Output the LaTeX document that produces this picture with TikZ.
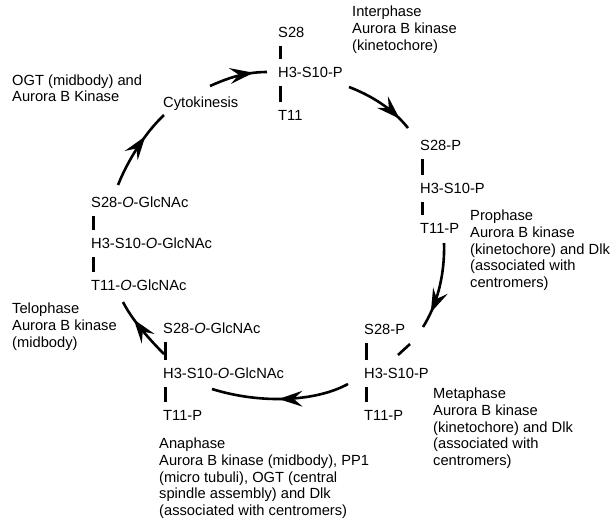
\documentclass[tikz,border=0pt]{standalone}
\usepackage{fontspec}
\setmainfont{Liberation Sans}
\usetikzlibrary{arrows.meta,decorations.markings}
\begin{document}
\begin{tikzpicture}[x=1pt,y=-1pt,
  every node/.style={font=\fontsize{14.7}{16.7}\selectfont},
  lbl/.style={inner sep=0pt,text height=10.5pt,text depth=0pt,anchor=west},
  blk/.style={inner sep=0pt,align=left,anchor=north west},
  bar/.style={line width=3pt},
  cyc/.style={line width=2.6pt},
  midarrow/.style={postaction={decorate},decoration={markings,mark=at position #1 with {\fill[line width=0.4pt] (2,0) -- (-22,8) -- (-13,0) -- (-22,-8) -- cycle;}}}]
\useasboundingbox (0,0) rectangle (616,520);

% Interphase group
\node[lbl] (s28a) at (278,32) {S28};
\node[lbl] (h3a) at (278,72) {H3-S10-P};
\node[lbl] (t11a) at (278,115) {T11};
\node[blk] (inter) at (352,6) {Interphase\\Aurora B kinase\\(kinetochore)};

% Prophase group
\node[lbl] (s28b) at (420,145) {S28-P};
\node[lbl] (h3b) at (420,188) {H3-S10-P};
\node[lbl] (t11b) at (420,228) {T11-P};
\node[blk] (pro) at (470,210) {Prophase\\Aurora B kinase\\(kinetochore) and Dlk\\(associated with\\centromers)};

% Metaphase group
\node[lbl] (s28c) at (364,329) {S28-P};
\node[lbl] (h3c) at (364,373) {H3-S10-P};
\node[lbl] (t11c) at (364,415) {T11-P};
\node[blk] (meta) at (433,388) {Metaphase\\Aurora B kinase\\(kinetochore) and Dlk\\(associated with\\centromers)};

% Anaphase group
\node[lbl] (s28d) at (163,328) {S28-\textit{O}-GlcNAc};
\node[lbl] (h3d) at (163,373) {H3-S10-\textit{O}-GlcNAc};
\node[lbl] (t11d) at (163,415) {T11-P};
\node[blk] (ana) at (159,438) {Anaphase\\Aurora B kinase (midbody), PP1\\(micro tubuli), OGT (central\\spindle assembly) and Dlk\\(associated with centromers)};

% Telophase group
\node[lbl] (s28e) at (91,202) {S28-\textit{O}-GlcNAc};
\node[lbl] (h3e) at (91,243) {H3-S10-\textit{O}-GlcNAc};
\node[lbl] (t11e) at (91,285) {T11-\textit{O}-GlcNAc};
\node[blk] (telo) at (12,303) {Telophase\\Aurora B kinase\\(midbody)};

% Cytokinesis
\node[lbl] (cyto) at (163,102) {Cytokinesis};
\node[blk,font=\fontsize{14.7}{15.5}\selectfont] (ogt) at (12,75) {OGT (midbody) and\\Aurora B Kinase};

% bars
\foreach \u/\l in {s28a/h3a,h3a/t11a,s28b/h3b,h3b/t11b,s28c/h3c,h3c/t11c,s28d/h3d,h3d/t11d,s28e/h3e,h3e/t11e}
  \draw[bar] ([shift={(2,14)}]\u.west) -- ([shift={(2,-13)}]\l.west);

% cycle arrows
\coordinate (a1s) at (210,86);  \coordinate (a1e) at (267,72);
\coordinate (a2s) at (349,87);  \coordinate (a2e) at (408,128);
\coordinate (a3s) at (444,243); \coordinate (a3e) at (423,327);
\coordinate (a3bs) at (410,344); \coordinate (a3be) at (398,355);
\coordinate (a4s) at (348,384); \coordinate (a4e) at (212,389);
\coordinate (a5s) at (164,354); \coordinate (a5e) at (123,302);
\coordinate (a6s) at (118,185); \coordinate (a6e) at (164,115);

\draw[cyc,midarrow=0.74] (a1s) .. controls (228,78) and (245,72) .. (a1e);
\draw[cyc,midarrow=0.8] (a2s) .. controls (370,95) and (392,108) .. (a2e);
\draw[cyc,midarrow=0.79] (a3s) .. controls (445,275) and (437,305) .. (a3e);
\draw[cyc] (a3bs) -- (a3be);
\draw[cyc,midarrow=0.5] (a4s) .. controls (315,402) and (260,404) .. (a4e);
\draw[cyc,midarrow=0.66] (a5s) .. controls (150,340) and (132,320) .. (a5e);
\draw[cyc,midarrow=0.64] (a6s) .. controls (128,160) and (145,133) .. (a6e);
\end{tikzpicture}
\end{document}
